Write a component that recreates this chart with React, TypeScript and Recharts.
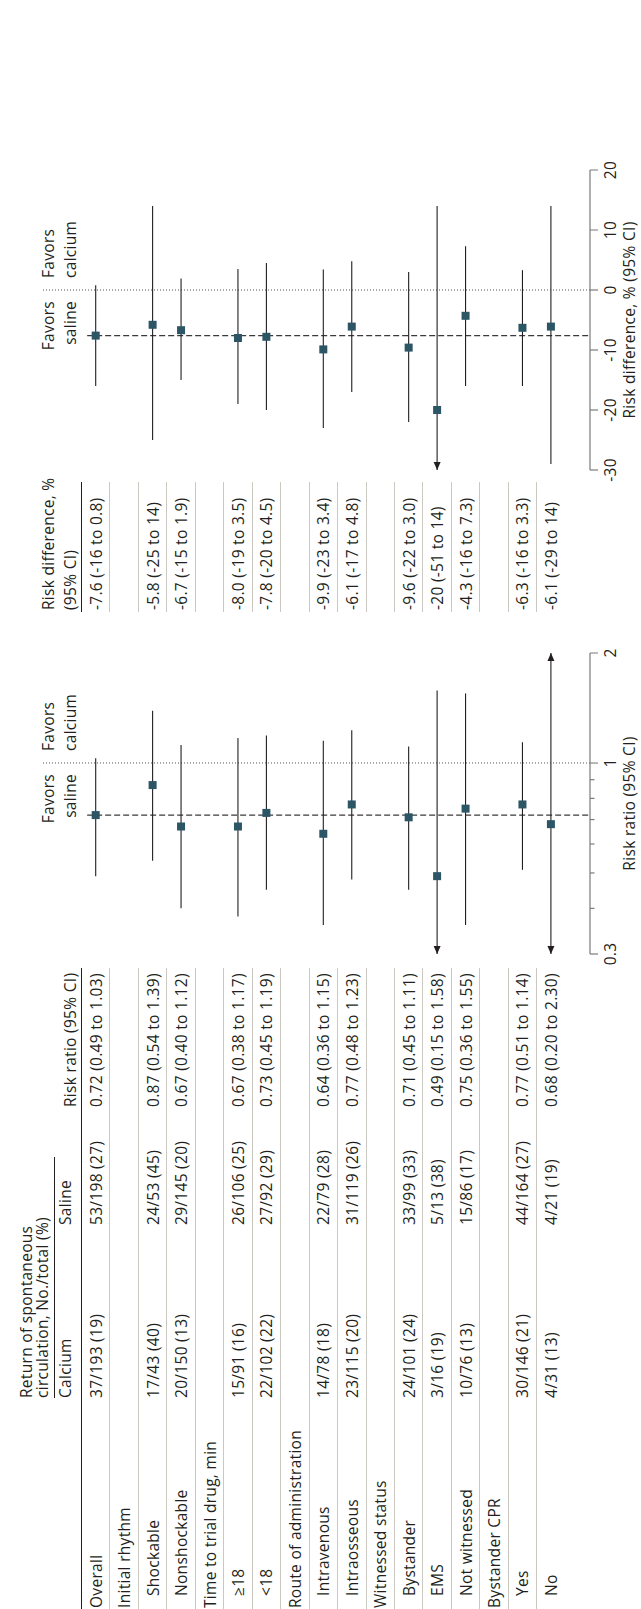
import React from "react";
import {
  ScatterChart,
  Scatter,
  XAxis,
  YAxis,
  ReferenceLine,
  ReferenceDot,
} from "recharts";

// ---- data -------------------------------------------------------------
const rowLabels = [
  "Overall",
  "Initial rhythm",
  "Shockable",
  "Nonshockable",
  "Time to trial drug, min",
  "≥18",
  "<18",
  "Route of administration",
  "Intravenous",
  "Intraosseous",
  "Witnessed status",
  "Bystander",
  "EMS",
  "Not witnessed",
  "Bystander CPR",
  "Yes",
  "No",
];
const groupHeaderRows = [1, 4, 7, 10, 14];

const calciumText = [
  "37/193 (19)", "", "17/43 (40)", "20/150 (13)", "", "15/91 (16)", "22/102 (22)", "",
  "14/78 (18)", "23/115 (20)", "", "24/101 (24)", "3/16 (19)", "10/76 (13)", "",
  "30/146 (21)", "4/31 (13)",
];
const salineText = [
  "53/198 (27)", "", "24/53 (45)", "29/145 (20)", "", "26/106 (25)", "27/92 (29)", "",
  "22/79 (28)", "31/119 (26)", "", "33/99 (33)", "5/13 (38)", "15/86 (17)", "",
  "44/164 (27)", "4/21 (19)",
];

const rrEstimate = [0.72, null, 0.87, 0.67, null, 0.67, 0.73, null, 0.64, 0.77, null, 0.71, 0.49, 0.75, null, 0.77, 0.68];
const rrLower = [0.49, null, 0.54, 0.4, null, 0.38, 0.45, null, 0.36, 0.48, null, 0.45, 0.15, 0.36, null, 0.51, 0.2];
const rrUpper = [1.03, null, 1.39, 1.12, null, 1.17, 1.19, null, 1.15, 1.23, null, 1.11, 1.58, 1.55, null, 1.14, 2.3];

const rdEstimate = [-7.6, null, -5.8, -6.7, null, -8.0, -7.8, null, -9.9, -6.1, null, -9.6, -20, -4.3, null, -6.3, -6.1];
const rdLower = [-16, null, -25, -15, null, -19, -20, null, -23, -17, null, -22, -51, -16, null, -16, -29];
const rdUpper = [0.8, null, 14, 1.9, null, 3.5, 4.5, null, 3.4, 4.8, null, 3.0, 14, 7.3, null, 3.3, 14];
const rdText = [
  "-7.6 (-16 to 0.8)", "", "-5.8 (-25 to 14)", "-6.7 (-15 to 1.9)", "", "-8.0 (-19 to 3.5)",
  "-7.8 (-20 to 4.5)", "", "-9.9 (-23 to 3.4)", "-6.1 (-17 to 4.8)", "", "-9.6 (-22 to 3.0)",
  "-20 (-51 to 14)", "-4.3 (-16 to 7.3)", "", "-6.3 (-16 to 3.3)", "-6.1 (-29 to 14)",
];

const rrTicks = [0.3, 1, 2];
const rrMinorTicks = [0.4, 0.5, 0.6, 0.7, 0.8, 0.9];
const rdTicks = [-30, -20, -10, 0, 10, 20];

// ---- layout (unrotated frame, rotated -90deg at the end) --------------
const W = 1609;
const H = 641;
const ROW_TOP = 81.5;
const ROW_H = 28.45;
const PLOT_TOP = 42;
const AXIS_Y = 590;
const Y_DOMAIN: [number, number] = [-1.8875, 17.374];

const FONT = '"Open Sans", "Noto Sans", sans-serif';
const FS = 15.5;
const INK = "#231f20";
const RULE = "#cbc8c1";
const AXIS = "#7a7a7a";
const MARKER = "#2c5566";

const rowCenter = (k: number) => ROW_TOP + ROW_H * (k + 0.5);

const Txt = ({ u, v, children }: { u: number; v: number; children: React.ReactNode }) => (
  <div
    style={{
      position: "absolute",
      left: u,
      top: v - 10,
      height: 20,
      lineHeight: "20px",
      whiteSpace: "nowrap",
    }}
  >
    {children}
  </div>
);

const Rule = ({ u0, u1, v, t = 1, color = RULE }: { u0: number; u1: number; v: number; t?: number; color?: string }) => (
  <div
    style={{
      position: "absolute",
      left: u0,
      top: v - t / 2,
      width: u1 - u0,
      height: t,
      background: color,
    }}
  />
);

const Square = (props: any) => (
  <rect x={props.cx - 4} y={props.cy - 4} width={8} height={8} fill={MARKER} />
);

const arrowShape = (dir: number) => (props: any) => {
  const { cx, cy } = props;
  return (
    <path
      d={`M${cx},${cy} L${cx - dir * 8},${cy - 3.5} L${cx - dir * 8},${cy + 3.5} Z`}
      fill={INK}
    />
  );
};

const favorsLabel = (props: any) => {
  const { x, y } = props.viewBox;
  const style = { fontSize: FS, fill: INK, fontFamily: FONT };
  return (
    <g>
      <text x={x - 11} y={y + 11.5} textAnchor="end" {...style}>Favors</text>
      <text x={x - 11} y={y + 34} textAnchor="end" {...style}>saline</text>
      <text x={x + 12} y={y + 11.5} textAnchor="start" {...style}>Favors</text>
      <text x={x + 12} y={y + 34} textAnchor="start" {...style}>calcium</text>
    </g>
  );
};

interface PanelProps {
  left: number;
  width: number;
  plotLeft: number;
  plotRight: number;
  log: boolean;
  domain: [number, number];
  ticks: number[];
  minor: number[];
  est: (number | null)[];
  lo: (number | null)[];
  hi: (number | null)[];
  refValue: number;
  axisTitle: string;
}

function ForestPanel(p: PanelProps) {
  const [dMin, dMax] = p.domain;
  const points = p.est
    .map((e, i) => (e == null ? null : { x: e, row: i, lo: p.lo[i] as number, hi: p.hi[i] as number }))
    .filter((d): d is { x: number; row: number; lo: number; hi: number } => d !== null);
  const overall = p.est[0] as number;

  const renderTick = (props: any) => {
    const { x, y, payload } = props;
    const isMinor = p.minor.includes(payload.value);
    return (
      <g>
        <line x1={x} y1={y} x2={x} y2={y + (isMinor ? 4.5 : 8)} stroke={AXIS} strokeWidth={1.2} />
        {!isMinor && (
          <text x={x} y={y + 26} textAnchor="middle" fontSize={FS} fill={INK} fontFamily={FONT}>
            {payload.value}
          </text>
        )}
      </g>
    );
  };

  return (
    <div style={{ position: "absolute", left: p.left, top: 0 }}>
      <ScatterChart
        width={p.width}
        height={H}
        margin={{ top: PLOT_TOP, right: p.left + p.width - p.plotRight, bottom: 0, left: p.plotLeft - p.left }}
      >
        <XAxis
          type="number"
          dataKey="x"
          scale={p.log ? "log" : "linear"}
          domain={p.domain}
          ticks={[...p.ticks, ...p.minor]}
          interval={0}
          allowDataOverflow
          height={H - AXIS_Y}
          tickSize={0}
          tickMargin={0}
          tickLine={false}
          axisLine={{ stroke: AXIS, strokeWidth: 1.2 }}
          tick={renderTick}
          label={{ value: p.axisTitle, position: "insideBottom", offset: 6, fontSize: FS, fill: INK, fontFamily: FONT }}
        />
        <YAxis type="number" dataKey="row" domain={Y_DOMAIN} reversed hide allowDataOverflow />
        <ReferenceLine x={p.refValue} stroke="#555" strokeDasharray="1 2" ifOverflow="visible" label={favorsLabel} />
        <ReferenceLine
          segment={[{ x: overall, y: -0.3 }, { x: overall, y: Y_DOMAIN[1] }]}
          stroke="#3a3a3a"
          strokeDasharray="6 3"
          strokeWidth={1.2}
          ifOverflow="visible"
        />
        {points.map((d) => (
          <ReferenceLine
            key={`ci-${d.row}`}
            segment={[
              { x: Math.max(d.lo, dMin), y: d.row },
              { x: Math.min(d.hi, dMax), y: d.row },
            ]}
            stroke={INK}
            strokeWidth={1.1}
            ifOverflow="visible"
          />
        ))}
        {points
          .filter((d) => d.lo < dMin)
          .map((d) => (
            <ReferenceDot key={`lo-${d.row}`} x={dMin} y={d.row} r={4} ifOverflow="visible" shape={arrowShape(-1)} />
          ))}
        {points
          .filter((d) => d.hi > dMax)
          .map((d) => (
            <ReferenceDot key={`hi-${d.row}`} x={dMax} y={d.row} r={4} ifOverflow="visible" shape={arrowShape(1)} />
          ))}
        <Scatter data={points} shape={Square} isAnimationActive={false} />
      </ScatterChart>
    </div>
  );
}

export default function App() {
  return (
    <div
      style={{
        position: "absolute",
        left: 0,
        top: 0,
        width: H,
        height: W,
        overflow: "hidden",
        background: "#fff",
      }}
    >
      <div
        style={{
          position: "absolute",
          left: 0,
          top: 0,
          width: W,
          height: H,
          transformOrigin: "0 0",
          transform: `translateY(${W}px) rotate(-90deg)`,
          fontFamily: FONT,
          fontSize: FS,
          letterSpacing: 0.3,
          color: INK,
        }}
      >
        {/* table header */}
        <Txt u={211} v={26}>Return of spontaneous</Txt>
        <Txt u={211} v={42}>circulation, No./total (%)</Txt>
        <Rule u0={211} u1={452} v={54} color={INK} />
        <Txt u={211} v={65}>Calcium</Txt>
        <Txt u={384} v={65}>Saline</Txt>
        <Txt u={502} v={70}>Risk ratio (95% CI)</Txt>
        <Txt u={999} v={48}>Risk difference, %</Txt>
        <Txt u={999} v={70}>(95% CI)</Txt>

        <Rule u0={0} u1={641} v={ROW_TOP} t={1.5} color={INK} />
        <Rule u0={997} u1={1127} v={ROW_TOP} t={1.5} color={INK} />
        {rowLabels.slice(1).map((_, i) => (
          <React.Fragment key={`rule-${i}`}>
            <Rule u0={0} u1={641} v={ROW_TOP + ROW_H * (i + 1)} />
            <Rule u0={997} u1={1127} v={ROW_TOP + ROW_H * (i + 1)} />
          </React.Fragment>
        ))}

        {rowLabels.map((label, k) => {
          const v = rowCenter(k);
          const indent = k === 0 || groupHeaderRows.includes(k) ? 1 : 13;
          const rr = rrEstimate[k];
          return (
            <React.Fragment key={`row-${k}`}>
              <Txt u={indent} v={v}>{label}</Txt>
              {calciumText[k] && <Txt u={211} v={v}>{calciumText[k]}</Txt>}
              {salineText[k] && <Txt u={384} v={v}>{salineText[k]}</Txt>}
              {rr != null && (
                <Txt u={502} v={v}>
                  {`${rr.toFixed(2)} (${(rrLower[k] as number).toFixed(2)} to ${(rrUpper[k] as number).toFixed(2)})`}
                </Txt>
              )}
              {rdText[k] && <Txt u={999} v={v}>{rdText[k]}</Txt>}
            </React.Fragment>
          );
        })}

        <ForestPanel
          left={615}
          width={380}
          plotLeft={655}
          plotRight={956}
          log
          domain={[0.3, 2]}
          ticks={rrTicks}
          minor={rrMinorTicks}
          est={rrEstimate}
          lo={rrLower}
          hi={rrUpper}
          refValue={1}
          axisTitle="Risk ratio (95% CI)"
        />
        <ForestPanel
          left={1100}
          width={380}
          plotLeft={1139}
          plotRight={1439}
          log={false}
          domain={[-30, 20]}
          ticks={rdTicks}
          minor={[]}
          est={rdEstimate}
          lo={rdLower}
          hi={rdUpper}
          refValue={0}
          axisTitle="Risk difference, % (95% CI)"
        />
      </div>
    </div>
  );
}
